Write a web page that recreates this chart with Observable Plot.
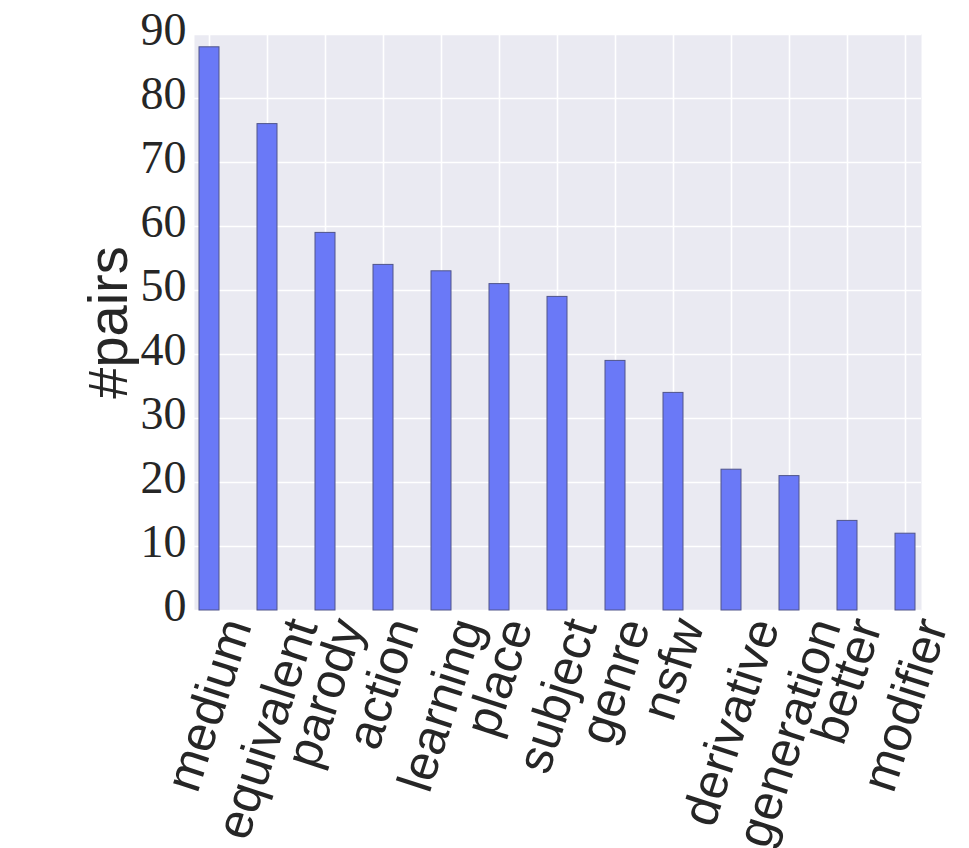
<!DOCTYPE html>
<html>
<head>
<meta charset="utf-8">
<script src="https://cdn.jsdelivr.net/npm/d3@7"></script>
<script src="https://cdn.jsdelivr.net/npm/@observablehq/plot@0.6"></script>
<style>
  html, body { margin: 0; padding: 0; background: #ffffff; }
  #chart { width: 969px; height: 848px; }
</style>
</head>
<body>
<div id="chart"></div>
<script>
const categories = ["medium", "equivalent", "parody", "action", "learning", "place", "subject", "genre", "nsfw", "derivative", "generation", "better", "modifier"];
const pairs = [88, 76, 59, 54, 53, 51, 49, 39, 34, 22, 21, 14, 12];
const yTicks = [0, 10, 20, 30, 40, 50, 60, 70, 80, 90];
const yLabel = "#pairs";

const data = categories.map((c, i) => ({category: c, value: pairs[i]}));

const labelFontSize = 50;
const labelRotate = 72;
const labelFont = "Liberation Sans, Arial, sans-serif";
const ctx = document.createElement("canvas").getContext("2d");
ctx.font = `${labelFontSize}px "Liberation Sans", Arial, sans-serif`;
const angle = labelRotate * Math.PI / 180;

// rotated x labels, horizontally centred on the tick (like matplotlib ha='center')
const xLabelMarks = categories.map(c => {
  const L = ctx.measureText(c).width;
  return Plot.text([c], {
    x: d => d,
    frameAnchor: "bottom",
    text: d => d,
    rotate: -labelRotate,
    textAnchor: "end",
    lineAnchor: "middle",
    dx: L * Math.cos(angle) / 2,
    dy: 10,
    fontSize: labelFontSize,
    fontFamily: labelFont,
    fill: "#262626"
  });
});

const chart = Plot.plot({
  width: 969,
  height: 848,
  marginLeft: 194,
  marginRight: 48,
  marginTop: 34,
  marginBottom: 238,
  style: {background: "#ffffff", overflow: "visible"},
  x: {domain: categories, paddingInner: 0.65, paddingOuter: 0.074, axis: null},
  y: {domain: [0, 90], axis: null},
  marks: [
    Plot.frame({fill: "#EAEAF2", stroke: null}),
    Plot.gridY(yTicks, {stroke: "#ffffff", strokeOpacity: 1, strokeWidth: 1.6}),
    Plot.gridX(categories, {stroke: "#ffffff", strokeOpacity: 1, strokeWidth: 1.6}),
    Plot.barY(data, {x: "category", y: "value", fill: "#6A79F7", stroke: "#50558a", strokeWidth: 1}),
    Plot.axisY(yTicks, {
      tickSize: 0,
      tickPadding: 8,
      dy: -4,
      fontSize: 46,
      fontFamily: "Liberation Serif, 'Times New Roman', serif",
      fill: "#262626",
      label: null
    }),
    Plot.text([yLabel], {
      frameAnchor: "left",
      text: d => d,
      rotate: -90,
      textAnchor: "middle",
      lineAnchor: "middle",
      dx: -85,
      fontSize: 56,
      fontFamily: labelFont,
      fill: "#262626"
    }),
    ...xLabelMarks
  ]
});

document.getElementById("chart").appendChild(chart);
</script>
</body>
</html>
